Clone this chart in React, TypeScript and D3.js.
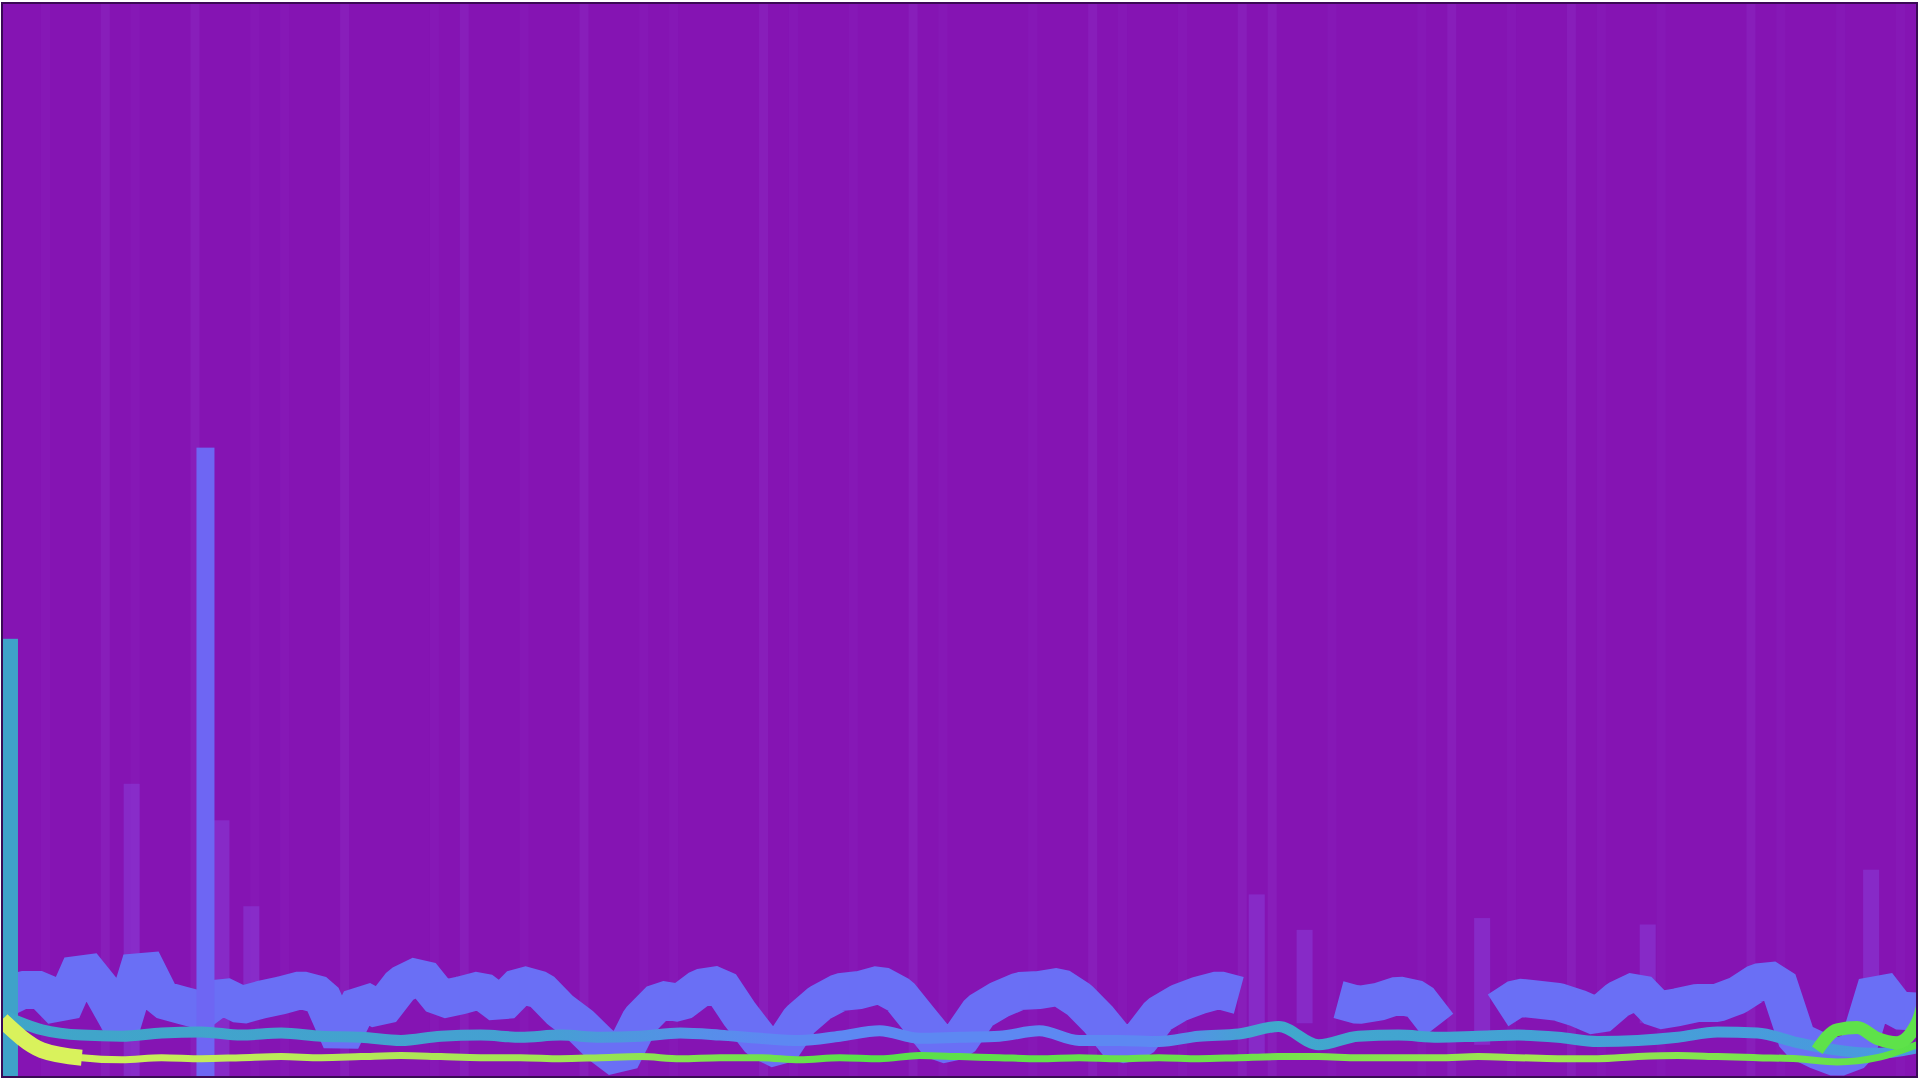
import React from 'react';
import * as d3 from 'd3';

// main blue-violet series, one reading every 20px step (null = gap)
const violetSeries: (number | null)[] = [
  7.2, 8.1, 8.1, 6.2, 10.4, 8.1, 4.8, 10.9, 7.2, 6.7, 6.2, 7.6, 6.7, 7.2, 7.6, 8.1,
  7.6, 3.4, 7.2, 6.2, 8.6, 9.5, 7.2, 7.6, 8.1, 6.7, 8.6, 8.1, 6.2, 4.8, 3.0, 1.6,
  5.3, 7.2, 6.9, 8.3, 8.6, 5.8, 3.4, 2.5, 5.3, 6.9, 7.9, 8.1, 8.6, 7.6, 5.3, 3.0,
  3.4, 6.1, 7.2, 8.0, 8.1, 8.4, 7.2, 5.3, 3.0, 3.4, 5.8, 6.9, 7.6, 8.1, 7.6, null,
  null, null, null, 7.2, 6.7, 7.0, 7.6, 7.2, 4.8, null, null, 6.2, 7.4, 7.2, 7.0, 6.4,
  5.6, 7.2, 8.1, 6.2, 6.5, 6.9, 6.9, 7.6, 8.8, 9.0, 3.4, 2.5, 1.8, 2.5, 8.6, 6.2, 6.1,
];

// teal wave, one reading every 40px
const tealSeries = [
  5.8, 4.4, 3.9, 3.8, 4.1, 4.2, 3.9, 4.1, 3.8, 3.7, 3.4, 3.8, 3.9, 3.7, 3.9, 3.7,
  3.8, 4.1, 3.9, 3.6, 3.4, 3.8, 4.3, 3.6, 3.7, 3.8, 4.3, 3.4, 3.4, 3.3, 3.8, 4.0,
  4.7, 3.0, 3.8, 3.9, 3.7, 3.8, 3.9, 3.7, 3.3, 3.4, 3.7, 4.2, 4.1, 3.2, 2.5, 2.2, 2.7,
];

// yellow-green baseline, one reading every 40px
const greenSeries = [
  5.3, 2.5, 1.8, 1.6, 1.8, 1.7, 1.8, 1.9, 1.8, 1.9, 2.0, 1.9, 1.8, 1.8, 1.7, 1.8,
  1.9, 1.7, 1.8, 1.8, 1.6, 1.8, 1.7, 2.0, 1.9, 1.8, 1.7, 1.8, 1.7, 1.8, 1.7, 1.8,
  1.9, 1.9, 1.8, 1.8, 1.8, 1.9, 1.8, 1.7, 1.7, 1.9, 2.0, 1.9, 1.8, 1.7, 1.4, 1.8, 3.0,
];

// late green swing at the right end (steps from index 91)
const greenTailStart = 91;
const greenTail = [2.5, 4.4, 4.6, 3.6, 3.2, 5.0, 14.0];

// tall solid columns
const columnAt = [0.35, 10.2];
const columnTop = [40.8, 58.6];
const columnColor = ['#3fa2c9', '#6e66f3'];

// faint violet spikes
const ghostAt = [6.5, 11, 12.5, 62.9, 65.3, 74.2, 82.5, 93.7];
const ghostTop = [27.3, 23.9, 15.9, 17.0, 13.7, 14.8, 14.2, 19.3];
const ghostBase = [0, 0, 6, 2, 5, 3, 5, 7];

// background stripe shading across the width
const stripeLevel = [
  0, 1, 0, 2, 1, 0, 2, 0, 1, 1, 0, 2, 0, 0, 1, 2, 0, 1, 0, 2, 0, 1, 1, 0, 0, 2, 1, 0,
  1, 0, 2, 1, 0, 0, 1, 0, 2, 1, 0, 1, 0, 2, 2, 0, 1, 0, 0, 1, 2, 0, 1, 0, 2, 1, 0, 1,
  0, 0, 2, 1, 0, 1, 0, 1,
];

const W = 1920;
const H = 1080;

export default function App() {
  const x = d3.scaleLinear().domain([0, 96]).range([2, 1917]);
  const y = d3.scaleLinear().domain([0, 100]).range([1077, 3]);
  const stripeX = d3.scaleBand<number>().domain(d3.range(stripeLevel.length)).range([2, 1917]);

  const violetLine = d3
    .line<number | null>()
    .defined((d) => d != null)
    .x((_, i) => x(i))
    .y((d) => y(d as number));

  const halfStep = d3
    .line<number>()
    .x((_, i) => x(i * 2))
    .y((d) => y(d))
    .curve(d3.curveMonotoneX);

  const tailLine = d3
    .line<number>()
    .x((_, i) => x(greenTailStart + i))
    .y((d) => y(d))
    .curve(d3.curveMonotoneX);

  const stripeFill = ['none', 'rgba(150,70,215,0.1)', 'rgba(150,70,215,0.2)'];

  return (
    <svg width={W} height={H} style={{ position: 'fixed', left: 0, top: 0 }}>
      <defs>
        <linearGradient id="tealGrad" x1="0" x2="1" y1="0" y2="0">
          <stop offset="0" stopColor="#3fa6c8" />
          <stop offset="0.28" stopColor="#45a0d2" />
          <stop offset="0.4" stopColor="#5d88f2" />
          <stop offset="0.6" stopColor="#5d88f2" />
          <stop offset="0.66" stopColor="#40a8cc" />
          <stop offset="1" stopColor="#4a98e0" />
        </linearGradient>
        <linearGradient id="greenGrad" x1="0" x2="1" y1="0" y2="0">
          <stop offset="0" stopColor="#d9f25c" />
          <stop offset="0.08" stopColor="#c8ec5a" />
          <stop offset="0.3" stopColor="#9ee454" />
          <stop offset="0.45" stopColor="#58e04a" />
          <stop offset="0.65" stopColor="#6fe04c" />
          <stop offset="0.8" stopColor="#a4e652" />
          <stop offset="1" stopColor="#58e048" />
        </linearGradient>
        <clipPath id="plot">
          <rect x={x(0)} y={y(100)} width={x(96) - x(0)} height={y(0) - y(100)} />
        </clipPath>
      </defs>

      <rect x={0} y={0} width={W} height={H} fill="#ffffff" />
      <g clipPath="url(#plot)">
        <rect x={x(0)} y={y(100)} width={x(96) - x(0)} height={y(0) - y(100)} fill="#8514b3" />
        {stripeLevel.map((lv, i) =>
          lv === 0 ? null : (
            <rect
              key={i}
              x={(stripeX(i) as number) + stripeX.bandwidth() * 0.3}
              y={y(100)}
              width={stripeX.bandwidth() * 0.3}
              height={y(0) - y(100)}
              fill={stripeFill[lv]}
            />
          )
        )}
        {ghostAt.map((g, i) => (
          <rect
            key={i}
            x={x(g) - 8}
            y={y(ghostTop[i])}
            width={16}
            height={y(ghostBase[i]) - y(ghostTop[i])}
            fill="#8c52ee"
            opacity={0.35}
          />
        ))}
        <path
          d={violetLine(violetSeries) ?? ''}
          fill="none"
          stroke="#6a6ff5"
          strokeWidth={38}
          strokeLinejoin="bevel"
        />
        {columnAt.map((c, i) => (
          <rect
            key={i}
            x={x(c) - 9}
            y={y(columnTop[i])}
            width={18}
            height={y(0) - y(columnTop[i])}
            fill={columnColor[i]}
          />
        ))}
        <path d={halfStep(tealSeries) ?? ''} fill="none" stroke="url(#tealGrad)" strokeWidth={11} />
        <path d={halfStep(greenSeries) ?? ''} fill="none" stroke="url(#greenGrad)" strokeWidth={7} />
        <path
          d={halfStep(greenSeries.slice(0, 3)) ?? ''}
          fill="none"
          stroke="#d9f25c"
          strokeWidth={16}
        />
        <path d={tailLine(greenTail) ?? ''} fill="none" stroke="#5ee24a" strokeWidth={13} />
      </g>
      <rect
        x={x(0)}
        y={y(100)}
        width={x(96) - x(0)}
        height={y(0) - y(100)}
        fill="none"
        stroke="#3a0a55"
        strokeWidth={2}
      />
    </svg>
  );
}
